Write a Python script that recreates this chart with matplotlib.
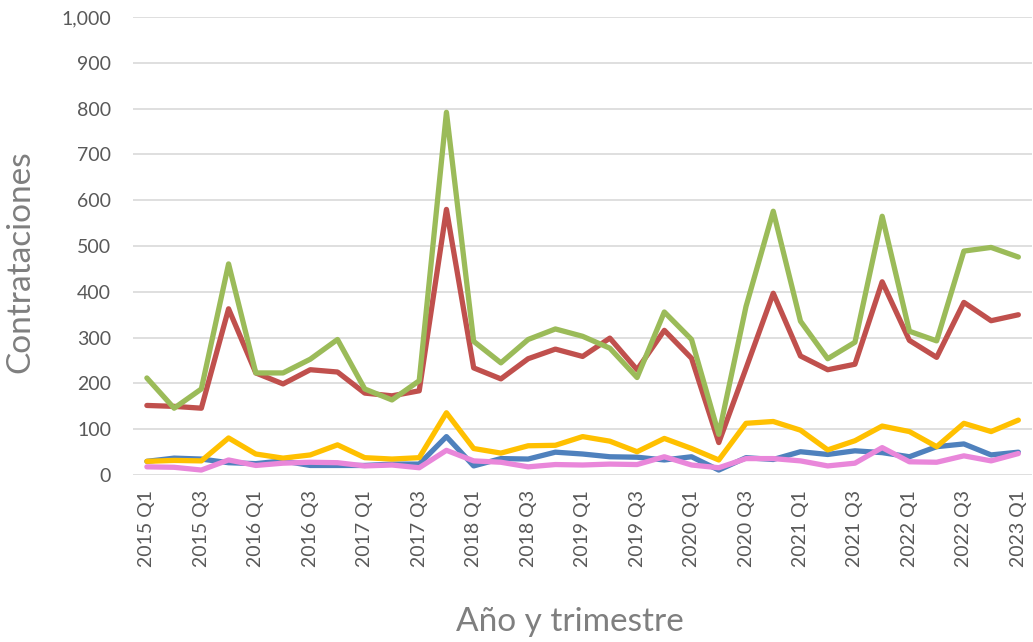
import matplotlib
matplotlib.use('Agg')
import matplotlib.pyplot as plt
import numpy as np

plt.rcParams['font.family'] = ['Lato', 'DejaVu Sans']

# quarters 2015 Q1 .. 2023 Q1
years = [2015, 2016, 2017, 2018, 2019, 2020, 2021, 2022, 2023]
quarters = [f"{y} Q{q}" for y in years for q in range(1, 5)][:33]

serie_azul = [30, 37, 35, 27, 25, 31, 21, 21, 21, 24, 24, 84,
              20, 36, 35, 50, 46, 40, 39, 33, 40, 11, 38, 34,
              51, 45, 53, 49, 40, 62, 68, 44, 50]
serie_roja = [152, 150, 146, 363, 223, 199, 230, 225, 179, 173, 184, 580,
              234, 210, 254, 275, 259, 299, 230, 316, 255, 71, 233, 397,
              260, 230, 242, 422, 294, 257, 377, 337, 350]
serie_verde = [212, 146, 188, 461, 223, 223, 253, 296, 188, 164, 206, 792,
               292, 245, 296, 319, 303, 277, 213, 356, 296, 89, 368, 576,
               336, 254, 290, 565, 314, 293, 489, 497, 476]
serie_amarilla = [30, 32, 31, 81, 46, 37, 44, 66, 38, 35, 38, 136,
                  58, 48, 64, 65, 84, 74, 51, 80, 58, 33, 113, 117,
                  98, 55, 75, 107, 95, 62, 113, 95, 120]
serie_rosa = [18, 17, 11, 33, 21, 26, 28, 27, 20, 22, 16, 54,
              31, 28, 18, 23, 22, 24, 23, 40, 22, 16, 36, 36,
              31, 20, 26, 60, 29, 28, 42, 31, 47]

series = [
    (serie_azul, '#4F81BD'),
    (serie_roja, '#C0504D'),
    (serie_verde, '#9BBB59'),
    (serie_amarilla, '#FFC000'),
    (serie_rosa, '#E987DA'),
]

fig = plt.figure(figsize=(10.33, 6.42), dpi=100)
ax = fig.add_axes([0.129, 0.260, 0.870, 0.7135])

x = np.arange(len(quarters))
for vals, col in series:
    ax.plot(x, vals, color=col, lw=3.8, solid_joinstyle='round',
            solid_capstyle='round', zorder=3)

ax.set_xlim(-0.5, len(quarters) - 0.5)
ax.set_ylim(0, 1000)
ax.set_yticks(range(0, 1001, 100))
ax.set_yticklabels([f"{v:,}" for v in range(0, 1001, 100)])
ax.set_xticks(x[::2])
ax.set_xticklabels(quarters[::2], rotation=90)

ax.grid(axis='y', color='#D9D9D9', lw=1.2, zorder=0)
for s in ax.spines.values():
    s.set_visible(False)
ax.tick_params(axis='both', length=0, labelsize=14, labelcolor='#595959')
ax.tick_params(axis='y', pad=16)
ax.tick_params(axis='x', pad=11)

ax.set_ylabel('Contrataciones', fontsize=24, color='#7F7F7F')
ax.yaxis.set_label_coords(-0.109, 0.465)
fig.text(0.552, 0.031, 'Año y trimestre', fontsize=24, color='#7F7F7F',
         ha='center', va='center')

fig.savefig('out.png', dpi=100, facecolor='white')
